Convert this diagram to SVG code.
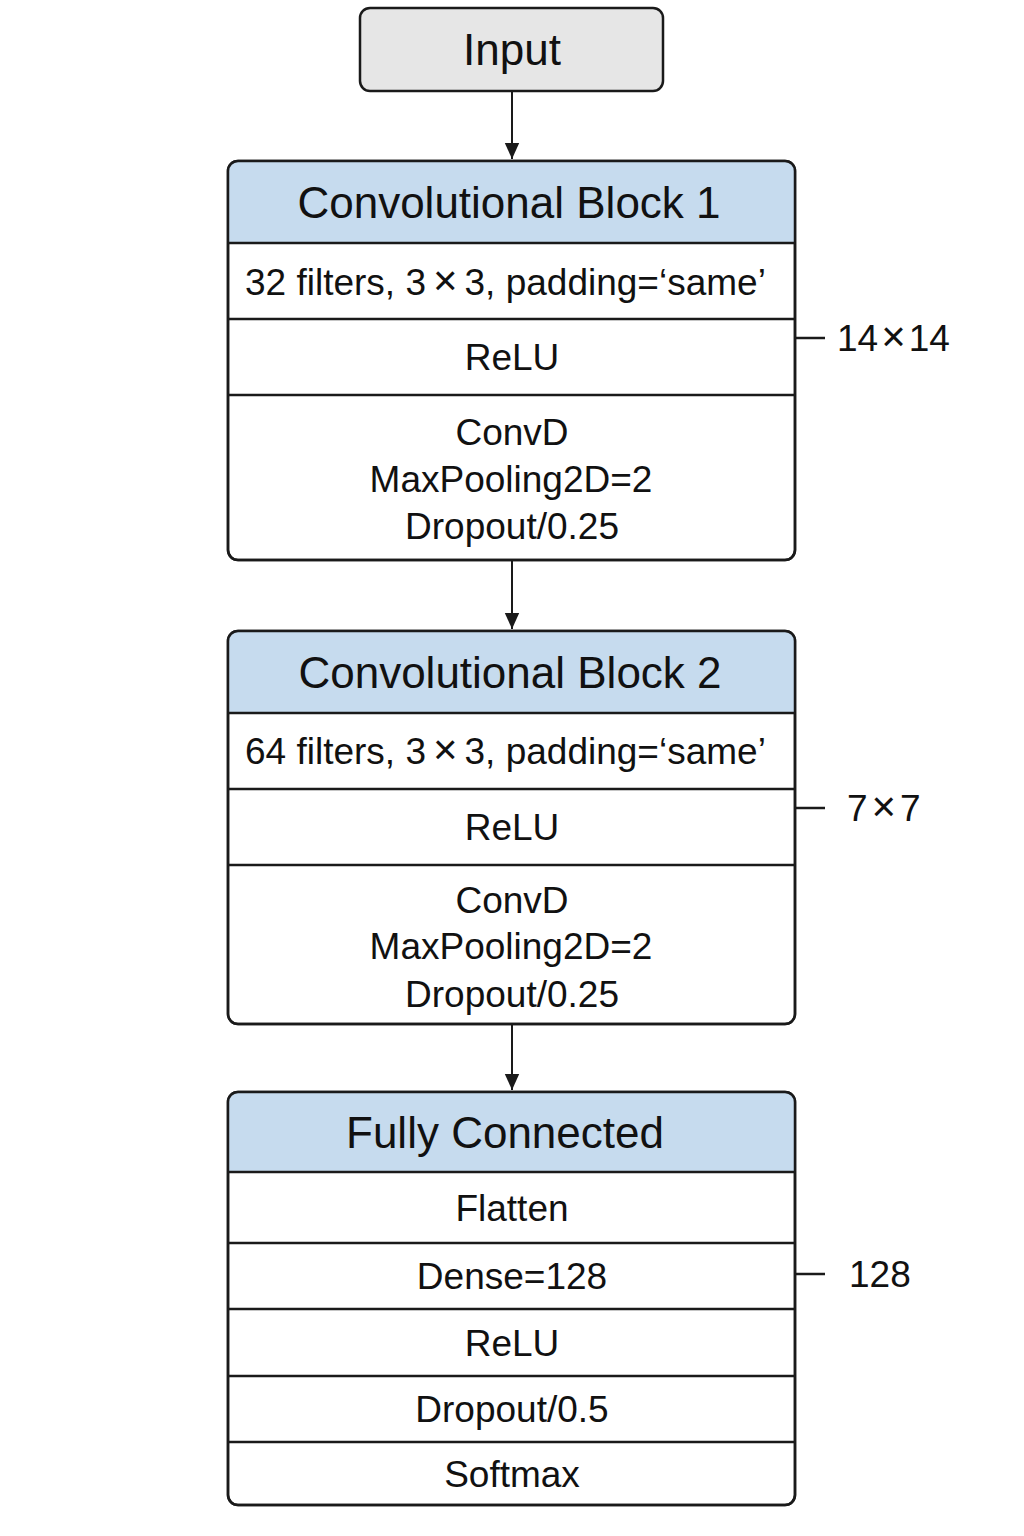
<svg xmlns="http://www.w3.org/2000/svg" width="1024" height="1536" viewBox="0 0 1024 1536">
<style>
.box{fill:#ffffff;stroke:#1a1a1a;stroke-width:2.5}
.hdr{fill:#c6dbee}
.sep{stroke:#1a1a1a;stroke-width:2.5;fill:none}
.t{font-family:"Liberation Sans",Arial,sans-serif;fill:#111;text-anchor:middle}
.h{font-size:44px}
.r{font-size:37px}
.l{text-anchor:start}
.x{font-size:42px}
.side{font-family:"Liberation Sans",Arial,sans-serif;fill:#111;font-size:37px}
.conn{stroke:#1a1a1a;stroke-width:2;fill:none}
</style>
<defs>
<marker id="ah" viewBox="0 0 10 10" refX="10" refY="5" markerWidth="8" markerHeight="8" markerUnits="strokeWidth" orient="auto">
<path d="M0,0.5 L10,5 L0,9.5 z" fill="#1a1a1a"/>
</marker>
<clipPath id="c1"><rect x="228" y="161" width="567" height="399" rx="10"/></clipPath>
<clipPath id="c2"><rect x="228" y="631" width="567" height="393" rx="10"/></clipPath>
<clipPath id="c3"><rect x="228" y="1092" width="567" height="413" rx="10"/></clipPath>
</defs>
<rect width="1024" height="1536" fill="#ffffff"/>

<g id="connectors">
<line class="conn" x1="512" y1="91" x2="512" y2="159" marker-end="url(#ah)"/>
<line class="conn" x1="512" y1="560" x2="512" y2="629" marker-end="url(#ah)"/>
<line class="conn" x1="512" y1="1024" x2="512" y2="1090" marker-end="url(#ah)"/>
<line class="sep" x1="796" y1="338" x2="825" y2="338"/>
<line class="sep" x1="796" y1="808" x2="825" y2="808"/>
<line class="sep" x1="796" y1="1274" x2="825" y2="1274"/>
</g>

<g id="input">
<rect x="360" y="8" width="303" height="83" rx="10" fill="#e6e6e6" stroke="#1a1a1a" stroke-width="2.5"/>
<text class="t h" x="512" y="65">Input</text>
</g>

<g id="block1">
<rect class="box" x="228" y="161" width="567" height="399" rx="10"/>
<rect class="hdr" x="228" y="161" width="567" height="82" clip-path="url(#c1)"/>
<rect x="228" y="161" width="567" height="399" rx="10" fill="none" stroke="#1a1a1a" stroke-width="2.5"/>
<line class="sep" x1="228" y1="243" x2="795" y2="243"/>
<line class="sep" x1="228" y1="319" x2="795" y2="319"/>
<line class="sep" x1="228" y1="395" x2="795" y2="395"/>
<text class="t h" x="509" y="218">Convolutional Block 1</text>
<text class="t r l" x="245" y="295">32 filters, 3<tspan class="x" dx="7">×</tspan><tspan dx="7">3, padding=‘same’</tspan></text>
<text class="t r" x="512" y="370">ReLU</text>
<text class="t r" x="512" y="445">ConvD</text>
<text class="t r" x="511" y="492">MaxPooling2D=2</text>
<text class="t r" x="512" y="539">Dropout/0.25</text>
</g>

<g id="block2">
<rect class="box" x="228" y="631" width="567" height="393" rx="10"/>
<rect class="hdr" x="228" y="631" width="567" height="82" clip-path="url(#c2)"/>
<rect x="228" y="631" width="567" height="393" rx="10" fill="none" stroke="#1a1a1a" stroke-width="2.5"/>
<line class="sep" x1="228" y1="713" x2="795" y2="713"/>
<line class="sep" x1="228" y1="789" x2="795" y2="789"/>
<line class="sep" x1="228" y1="865" x2="795" y2="865"/>
<text class="t h" x="510" y="688">Convolutional Block 2</text>
<text class="t r l" x="245" y="764">64 filters, 3<tspan class="x" dx="7">×</tspan><tspan dx="7">3, padding=‘same’</tspan></text>
<text class="t r" x="512" y="840">ReLU</text>
<text class="t r" x="512" y="913">ConvD</text>
<text class="t r" x="511" y="959">MaxPooling2D=2</text>
<text class="t r" x="512" y="1007">Dropout/0.25</text>
</g>

<g id="fc">
<rect class="box" x="228" y="1092" width="567" height="413" rx="10"/>
<rect class="hdr" x="228" y="1092" width="567" height="80" clip-path="url(#c3)"/>
<rect x="228" y="1092" width="567" height="413" rx="10" fill="none" stroke="#1a1a1a" stroke-width="2.5"/>
<line class="sep" x1="228" y1="1172" x2="795" y2="1172"/>
<line class="sep" x1="228" y1="1243" x2="795" y2="1243"/>
<line class="sep" x1="228" y1="1309" x2="795" y2="1309"/>
<line class="sep" x1="228" y1="1376" x2="795" y2="1376"/>
<line class="sep" x1="228" y1="1442" x2="795" y2="1442"/>
<text class="t h" x="505" y="1148">Fully Connected</text>
<text class="t r" x="512" y="1221">Flatten</text>
<text class="t r" x="512" y="1289">Dense=128</text>
<text class="t r" x="512" y="1356">ReLU</text>
<text class="t r" x="512" y="1422">Dropout/0.5</text>
<text class="t r" x="512" y="1487">Softmax</text>
</g>

<g id="side-labels">
<text class="side" x="837" y="351">14<tspan class="x" dx="3">×</tspan><tspan dx="3">14</tspan></text>
<text class="side" x="847" y="821">7<tspan class="x" dx="4">×</tspan><tspan dx="4">7</tspan></text>
<text class="side" x="849" y="1287">128</text>
</g>
</svg>
